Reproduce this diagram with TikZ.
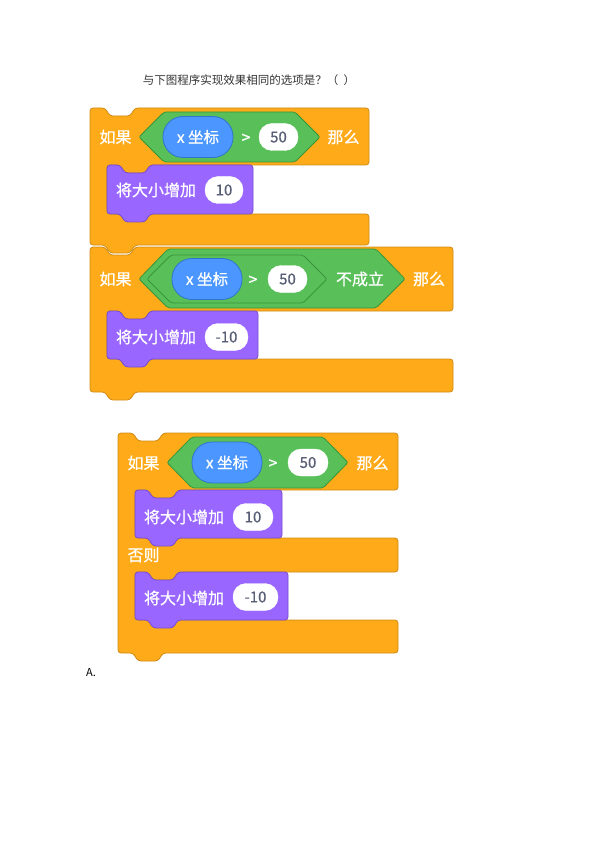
\documentclass[tikz,border=0pt]{standalone}
\usepackage{fontspec}
\setmainfont{Noto Sans CJK SC}
\newfontfamily\blockfont[FakeBold=0.6]{Noto Sans CJK SC}
\usetikzlibrary{positioning}
\definecolor{ctrlfill}{HTML}{FFAB19}
\definecolor{ctrldraw}{HTML}{CF8B17}
\definecolor{opfill}{HTML}{59C059}
\definecolor{opdraw}{HTML}{389438}
\definecolor{motionfill}{HTML}{4C97FF}
\definecolor{motiondraw}{HTML}{3373CC}
\definecolor{looksfill}{HTML}{9966FF}
\definecolor{looksdraw}{HTML}{774DCB}
\definecolor{slottext}{HTML}{575E75}
\definecolor{titletext}{HTML}{333333}
\tikzset{
  ctrlblock/.style={fill=ctrlfill, draw=ctrldraw, line width=0.8pt, rounded corners=3pt},
  opblock/.style={fill=opfill, draw=opdraw, line width=0.8pt, rounded corners=2pt},
  looksblock/.style={fill=looksfill, draw=looksdraw, line width=0.8pt, rounded corners=3pt},
  reporter/.style={fill=motionfill, draw=motiondraw, line width=0.8pt, text=white,
    minimum width=70pt, minimum height=41pt, rounded corners=20pt, inner sep=0pt,
    font=\blockfont\fontsize{15.5}{18}\selectfont},
  numslot/.style={fill=white, draw=white, text=slottext, minimum height=27pt,
    rounded corners=13pt, inner sep=0pt, font=\blockfont\fontsize{15}{18}\selectfont},
  blocktext/.style={text=white, inner sep=0pt, font=\blockfont\fontsize{16}{18}\selectfont},
  gtsign/.style={blocktext, yshift=-1.5pt}
}
\begin{document}
\begin{tikzpicture}[x=1pt, y=-1pt]
\useasboundingbox (0,0) rectangle (596,842);

% Question
\node[text=titletext, font=\fontsize{11.5}{14}\selectfont] (question) at (249,80) {与下图程序实现效果相同的选项是？（\ \ ）};

% Second block: if not (x > 50)
\draw[ctrlblock] (90,247) -- ++(15,0) -- ++(5,8) -- ++(20,0) -- ++(5,-8) -- (453,247) -- (453,311)
  -- (150,311) -- ++(-5,8) -- ++(-20,0) -- ++(-5,-8) -- (107,311) -- (107,359) -- (453,359) -- (453,392)
  -- (135,392) -- ++(-5,8) -- ++(-20,0) -- ++(-5,-8) -- (90,392) -- cycle;
\draw[opblock] (139,279) -- (168,249) -- (376,249) -- (405,279) -- (376,308) -- (168,308) -- cycle;
\draw[opblock] (147,279) -- (171,255) -- (303,255) -- (327,279) -- (303,303) -- (171,303) -- cycle;
\node[blocktext] (iftwo) at (115.5,279) {如果};
\node[reporter] (xposTwo) at (207,279) {x 坐标};
\node[gtsign] (gtTwo) at (253,279) {>};
\node[numslot, minimum width=39pt] (numTwo) at (287.5,279) {50};
\node[blocktext] (notTwo) at (360,279) {不成立};
\node[blocktext] (thenTwo) at (429,279) {那么};
\draw[looksblock] (107,311) -- (120,311) -- ++(5,8) -- ++(20,0) -- ++(5,-8) -- (258,311) -- (258,359)
  -- (150,359) -- ++(-5,8) -- ++(-20,0) -- ++(-5,-8) -- (107,359) -- cycle;
\node[blocktext] (sizeTwo) at (156,337) {将大小增加};
\node[numslot, minimum width=43pt] (stepTwo) at (226.5,337) {-10};

% First block: if x > 50
\draw[ctrlblock] (90,108) -- ++(15,0) -- ++(5,8) -- ++(20,0) -- ++(5,-8) -- (369,108) -- (369,165)
  -- (150,165) -- ++(-5,8) -- ++(-20,0) -- ++(-5,-8) -- (107,165) -- (107,214) -- (369,214) -- (369,245)
  -- (135,245) -- ++(-5,8) -- ++(-20,0) -- ++(-5,-8) -- (90,245) -- cycle;
\draw[opblock] (139,137) -- (164,112) -- (295,112) -- (320,137) -- (295,162) -- (164,162) -- cycle;
\node[blocktext] (ifOne) at (115.5,137) {如果};
\node[reporter] (xposOne) at (198,137) {x 坐标};
\node[gtsign] (gtOne) at (246,137) {>};
\node[numslot, minimum width=39pt] (numOne) at (278.5,137) {50};
\node[blocktext] (thenOne) at (343.5,137) {那么};
\draw[looksblock] (107,165) -- (120,165) -- ++(5,8) -- ++(20,0) -- ++(5,-8) -- (253,165) -- (253,214)
  -- (150,214) -- ++(-5,8) -- ++(-20,0) -- ++(-5,-8) -- (107,214) -- cycle;
\node[blocktext] (sizeOne) at (156,190) {将大小增加};
\node[numslot, minimum width=38pt] (stepOne) at (224,190) {10};

% Option A: if ... else
\draw[ctrlblock] (118,433) -- ++(15,0) -- ++(5,8) -- ++(20,0) -- ++(5,-8) -- (398,433) -- (398,490)
  -- (178,490) -- ++(-5,8) -- ++(-20,0) -- ++(-5,-8) -- (135,490) -- (135,538) -- (398,538) -- (398,572)
  -- (178,572) -- ++(-5,8) -- ++(-20,0) -- ++(-5,-8) -- (135,572) -- (135,620) -- (398,620) -- (398,653)
  -- (163,653) -- ++(-5,8) -- ++(-20,0) -- ++(-5,-8) -- (118,653) -- cycle;
\draw[opblock] (167,462.5) -- (192,437) -- (323,437) -- (348,462.5) -- (323,488) -- (192,488) -- cycle;
\node[blocktext] (ifA) at (143.5,463) {如果};
\node[reporter] (xposA) at (227,462.5) {x 坐标};
\node[gtsign] (gtA) at (273,462.5) {>};
\node[numslot, minimum width=40pt] (numA) at (308,462.5) {50};
\node[blocktext] (thenA) at (372.5,463) {那么};
\draw[looksblock] (135,490) -- (148,490) -- ++(5,8) -- ++(20,0) -- ++(5,-8) -- (282,490) -- (282,538)
  -- (178,538) -- ++(-5,8) -- ++(-20,0) -- ++(-5,-8) -- (135,538) -- cycle;
\node[blocktext] (sizeA) at (184,517) {将大小增加};
\node[numslot, minimum width=40pt] (stepA) at (253,517) {10};
\node[blocktext] (elseA) at (143.5,555) {否则};
\draw[looksblock] (135,572) -- (148,572) -- ++(5,8) -- ++(20,0) -- ++(5,-8) -- (288,572) -- (288,620)
  -- (178,620) -- ++(-5,8) -- ++(-20,0) -- ++(-5,-8) -- (135,620) -- cycle;
\node[blocktext] (sizeElseA) at (184,598) {将大小增加};
\node[numslot, minimum width=45pt] (stepElseA) at (255.5,597) {-10};

% Option label
\node[font=\fontsize{11}{13}\selectfont, anchor=west, inner sep=0pt] (optA) at (86,673) {A.};
\end{tikzpicture}
\end{document}
